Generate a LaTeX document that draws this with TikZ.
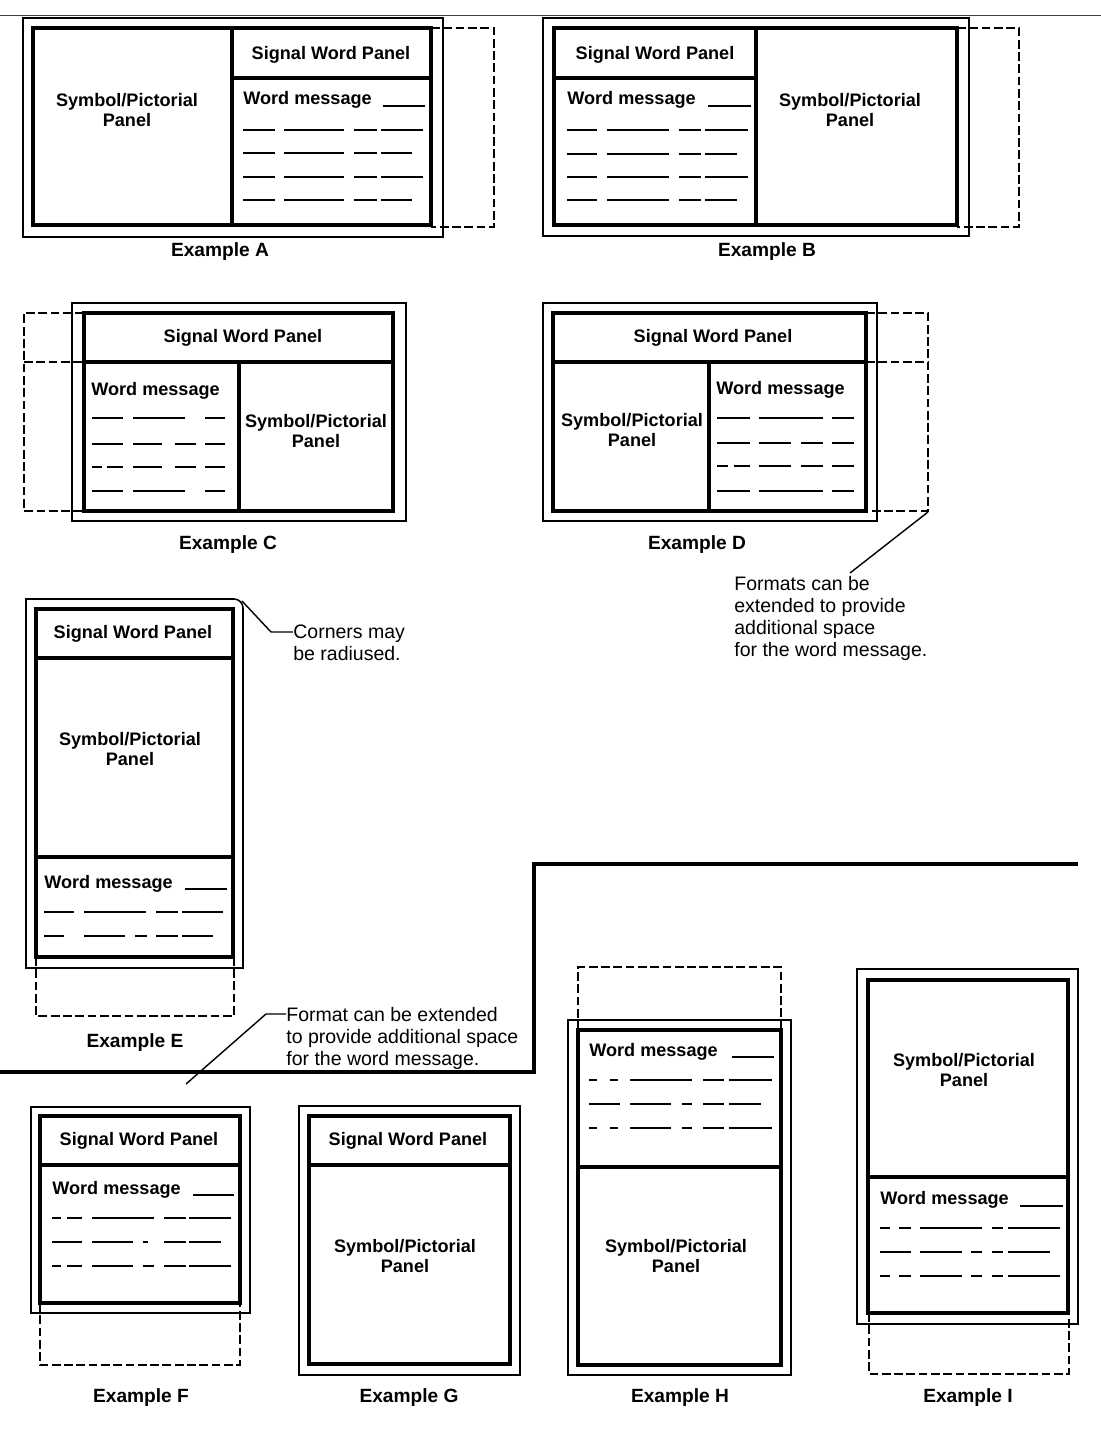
\documentclass[tikz,border=0pt]{standalone}
\usepackage{fontspec}
\setmainfont{Liberation Sans}
\begin{document}
\begin{tikzpicture}[x=0.02cm,y=-0.02cm]
\tikzset{
  outerbox/.style={draw,line width=0.9pt},
  innerbox/.style={draw,line width=1.9pt},
  extbox/.style={draw,line width=0.9pt,dash pattern=on 5pt off 2pt},
  msg/.style={line width=1.3pt},
  lbl/.style={inner sep=0pt,align=center,font=\bfseries\fontsize{10.3}{11.9}\selectfont},
  msglbl/.style={inner sep=0pt,anchor=base west,font=\bfseries\fontsize{10.3}{11.9}\selectfont},
  exlabel/.style={inner sep=0pt,font=\bfseries\fontsize{10.9}{13}\selectfont},
  note/.style={inner sep=0pt,anchor=north west,align=left,font=\fontsize{11.1}{12.5}\selectfont},
  leader/.style={line width=0.8pt},
  stair/.style={line width=2.8pt}
}
\newcommand\msgrow[2]{\foreach \sa/\sb in {#2}{\draw[msg] (\sa,#1) -- (\sb,#1);}}
\path[use as bounding box] (0,0) rectangle (1101,1439);

% page rule along the top
\draw[line width=0.6pt,black!75] (0,15.5) -- (1101,15.5);

% ---------------- Example A ----------------
\draw[outerbox] (23,18) rectangle (443,237);
\draw[extbox] (431,28) -- (494,28) -- (494,227) -- (431,227);
\draw[innerbox] (33,28) rectangle (431,225);
\draw[innerbox] (232,28) -- (232,225) (232,78) -- (431,78);
\node[lbl] (aSig) at (331,55) {Signal Word Panel};
\node[lbl] (aSym) at (127,110) {Symbol/Pictorial\\Panel};
\node[msglbl] (aMsg) at (243,105) {Word message};
\draw[msg] (383,106) -- (425,106);
\msgrow{130}{243/275,284/344,354/377,381/423}
\msgrow{153}{243/275,284/344,354/377,381/412}
\msgrow{177}{243/275,284/344,354/377,381/423}
\msgrow{200}{243/275,284/344,354/377,381/412}
\node[exlabel] (aCap) at (220,252) {Example A};

% ---------------- Example B ----------------
\draw[outerbox] (543,18) rectangle (969,236);
\draw[extbox] (957,28) -- (1019,28) -- (1019,227) -- (957,227);
\draw[innerbox] (554,28) rectangle (957,225);
\draw[innerbox] (756,28) -- (756,225) (554,78) -- (756,78);
\node[lbl] (bSig) at (655,55) {Signal Word Panel};
\node[lbl] (bSym) at (850,110) {Symbol/Pictorial\\Panel};
\node[msglbl] (bMsg) at (567,105) {Word message};
\draw[msg] (708,106) -- (751,106);
\msgrow{130}{567/597,607/669,679/701,705/748}
\msgrow{154}{567/597,607/669,679/701,705/737}
\msgrow{177}{567/597,607/669,679/701,705/748}
\msgrow{200}{567/597,607/669,679/701,705/737}
\node[exlabel] (bCap) at (767,252) {Example B};

% ---------------- Example C ----------------
\draw[outerbox] (72,303) rectangle (406,521);
\draw[extbox] (84,313) -- (24,313) -- (24,511) -- (84,511) (24,362) -- (84,362);
\draw[innerbox] (84,313) rectangle (393,511);
\draw[innerbox] (84,362) -- (393,362) (239,362) -- (239,511);
\node[lbl] (cSig) at (243,338) {Signal Word Panel};
\node[lbl] (cSym) at (316,431) {Symbol/Pictorial\\Panel};
\node[msglbl] (cMsg) at (91,395) {Word message};
\msgrow{418}{92/123,133/185,205/225}
\msgrow{444}{92/123,133/162,175/196,205/225}
\msgrow{467}{92/102,107/123,133/162,175/196,205/225}
\msgrow{491}{92/123,133/185,205/225}
\node[exlabel] (cCap) at (228,545) {Example C};

% ---------------- Example D ----------------
\draw[outerbox] (543,303) rectangle (877,521);
\draw[extbox] (866,313) -- (928,313) -- (928,511) -- (866,511) (866,362) -- (928,362);
\draw[innerbox] (553,313) rectangle (866,511);
\draw[innerbox] (553,362) -- (866,362) (709,362) -- (709,511);
\node[lbl] (dSig) at (713,338) {Signal Word Panel};
\node[lbl] (dSym) at (632,430) {Symbol/Pictorial\\Panel};
\node[msglbl] (dMsg) at (716,394) {Word message};
\msgrow{418}{717/750,759/823,832/854}
\msgrow{443}{717/750,759/791,801/823,832/854}
\msgrow{466}{717/728,734/750,759/791,801/823,832/854}
\msgrow{491}{717/750,759/823,832/854}
\node[exlabel] (dCap) at (697,545) {Example D};
\node[note] (dNote) at (734,576) {Formats can be\\extended to provide\\additional space\\for the word message.};
\coordinate (dExt) at (928,512);
\coordinate (dTip) at (850,573);
\draw[leader] (dExt) -- (dTip);

% ---------------- Example E ----------------
\draw[outerbox] (26,968) -- (26,599) -- (234,599)
  arc[start angle=-90,end angle=0,radius=9] -- (243,968) -- cycle;
\draw[extbox] (36,957) -- (36,1016) -- (234,1016) -- (234,957);
\draw[innerbox] (36,609) rectangle (233,957);
\draw[innerbox] (36,658) -- (233,658) (36,857) -- (233,857);
\node[lbl] (eSig) at (133,634) {Signal Word Panel};
\node[lbl] (eSym) at (130,749) {Symbol/Pictorial\\Panel};
\node[msglbl] (eMsg) at (44,888) {Word message};
\draw[msg] (185,889) -- (227,889);
\msgrow{912}{44/74,84/146,156/178,182/223}
\msgrow{936}{44/64,84/125,135/147,156/178,182/213}
\node[exlabel] (eCap) at (135,1043) {Example E};
\node[note] (eNote) at (293,625) {Corners may\\be radiused.};
\coordinate (eCorner) at (242,601);
\coordinate (eBend) at (271,632);
\draw[leader] (eCorner) -- (eBend) -- (eBend -| eNote.west);

% ---------------- dividing rule ----------------
\draw[stair] (0,1072) -- (534,1072) -- (534,864) -- (1078,864);

% callout for the lower group
\node[note] (fNote) at (286,1007) {Format can be extended\\to provide additional space\\for the word message.};
\coordinate (fTail) at (186,1084);
\coordinate (fBend) at (266,1014);
\draw[leader] (fTail) -- (fBend) -- (fBend -| fNote.west);

% ---------------- Example F ----------------
\draw[outerbox] (31,1107) rectangle (250,1313);
\draw[extbox] (40,1303) -- (40,1365) -- (240,1365) -- (240,1303);
\draw[innerbox] (40,1116) rectangle (240,1303);
\draw[innerbox] (40,1165) -- (240,1165);
\node[lbl] (fSig) at (139,1141) {Signal Word Panel};
\node[msglbl] (fMsg) at (52,1194) {Word message};
\draw[msg] (193,1195) -- (234,1195);
\msgrow{1218}{52/61,67/82,92/154,164/186,189/231}
\msgrow{1242}{52/82,92/133,143/148,164/186,189/221}
\msgrow{1266}{52/61,67/82,92/133,143/154,164/186,189/231}
\node[exlabel] (fCap) at (141,1398) {Example F};

% ---------------- Example G ----------------
\draw[outerbox] (299,1106) rectangle (520,1375);
\draw[innerbox] (309,1116) rectangle (510,1364);
\draw[innerbox] (309,1165) -- (510,1165);
\node[lbl] (gSig) at (408,1141) {Signal Word Panel};
\node[lbl] (gSym) at (405,1256) {Symbol/Pictorial\\Panel};
\node[exlabel] (gCap) at (409,1398) {Example G};

% ---------------- Example H ----------------
\draw[outerbox] (568,1020) rectangle (791,1375);
\draw[extbox] (578,1030) -- (578,967) -- (781,967) -- (781,1030);
\draw[innerbox] (578,1030) rectangle (781,1365);
\draw[innerbox] (578,1167) -- (781,1167);
\node[msglbl] (hMsg) at (589,1056) {Word message};
\draw[msg] (732,1057) -- (774,1057);
\msgrow{1080}{589/597,610/618,630/692,703/724,729/772}
\msgrow{1104}{589/620,630/671,682/692,703/724,729/761}
\msgrow{1128}{589/597,610/618,630/671,682/692,703/724,729/772}
\node[lbl] (hSym) at (676,1256) {Symbol/Pictorial\\Panel};
\node[exlabel] (hCap) at (680,1398) {Example H};

% ---------------- Example I ----------------
\draw[outerbox] (857,969) rectangle (1078,1324);
\draw[extbox] (869,1313) -- (869,1374) -- (1069,1374) -- (1069,1313);
\draw[innerbox] (868,980) rectangle (1068,1313);
\draw[innerbox] (868,1177) -- (1068,1177);
\node[lbl] (iSym) at (964,1070) {Symbol/Pictorial\\Panel};
\node[msglbl] (iMsg) at (880,1204) {Word message};
\draw[msg] (1020,1206) -- (1063,1206);
\msgrow{1228}{880/890,899/911,920/982,992/1003,1008/1060}
\msgrow{1252}{880/911,920/962,971/982,992/1003,1008/1050}
\msgrow{1276}{880/890,899/911,920/962,971/982,992/1003,1008/1060}
\node[exlabel] (iCap) at (968,1398) {Example I};
\end{tikzpicture}
\end{document}
